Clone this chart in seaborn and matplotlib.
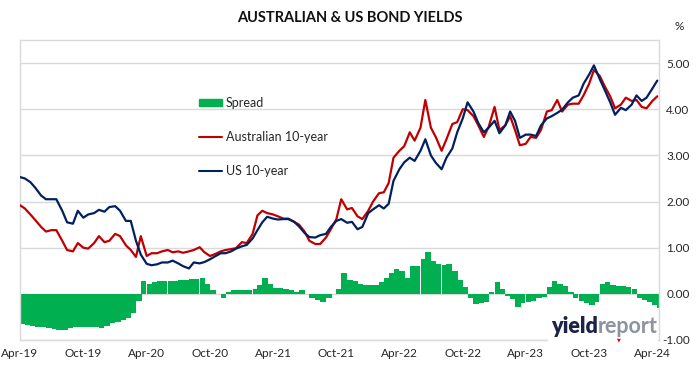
import numpy as np
import pandas as pd
import matplotlib
matplotlib.use('Agg')
import matplotlib.pyplot as plt
import matplotlib.dates as mdates
from matplotlib.lines import Line2D
from matplotlib.patches import Patch, Rectangle
import seaborn as sns

# ─── Data (semi-monthly readings, Apr-19 .. mid Apr-24) ───
dates = pd.date_range('2019-04-01', '2024-04-15', freq='SMS')

us_10y = [
    2.53, 2.50, 2.42, 2.30, 2.13, 2.05, 2.05, 2.05, 1.80, 1.55,
    1.52, 1.80, 1.65, 1.72, 1.75, 1.82, 1.78, 1.88, 1.90, 1.80,
    1.58, 1.58, 1.15, 0.85, 0.65, 0.62, 0.64, 0.68, 0.68, 0.72,
    0.66, 0.60, 0.55, 0.68, 0.66, 0.69, 0.75, 0.81, 0.88, 0.88,
    0.92, 0.98, 1.03, 1.06, 1.20, 1.38, 1.55, 1.67, 1.63, 1.61,
    1.62, 1.62, 1.56, 1.46, 1.32, 1.23, 1.22, 1.27, 1.30, 1.45,
    1.58, 1.62, 1.54, 1.56, 1.40, 1.45, 1.75, 1.83, 1.92, 1.85,
    1.95, 2.45, 2.70, 2.85, 2.95, 2.88, 3.10, 3.35, 3.00, 2.84,
    2.70, 2.95, 3.15, 3.50, 3.80, 4.15, 3.95, 3.70, 3.50, 3.60,
    3.75, 3.48, 3.65, 3.95, 3.75, 3.38, 3.45, 3.45, 3.42, 3.65,
    3.80, 3.85, 3.92, 3.99, 4.15, 4.25, 4.30, 4.55, 4.75, 4.95,
    4.65, 4.42, 4.15, 3.88, 4.03, 3.98, 4.10, 4.30, 4.18, 4.25,
    4.45, 4.62]

aus_10y = [
    1.92, 1.85, 1.72, 1.60, 1.45, 1.35, 1.38, 1.38, 1.15, 0.95,
    0.92, 1.10, 1.00, 0.98, 1.10, 1.25, 1.12, 1.15, 1.30, 1.25,
    1.05, 0.95, 0.80, 1.25, 0.82, 0.88, 0.88, 0.92, 0.95, 0.90,
    0.92, 0.89, 0.92, 0.95, 1.01, 0.90, 0.82, 0.86, 0.92, 0.95,
    0.97, 0.99, 1.12, 1.10, 1.30, 1.70, 1.80, 1.75, 1.72, 1.68,
    1.63, 1.63, 1.56, 1.50, 1.35, 1.15, 1.08, 1.08, 1.22, 1.40,
    1.62, 2.05, 1.83, 1.86, 1.68, 1.62, 1.80, 2.00, 2.18, 2.20,
    2.40, 2.95, 3.10, 3.20, 3.50, 3.32, 3.60, 4.20, 3.60, 3.40,
    3.10, 3.35, 3.68, 3.72, 4.00, 3.98, 3.85, 3.65, 3.40, 3.62,
    4.05, 3.55, 3.65, 3.85, 3.55, 3.22, 3.25, 3.40, 3.38, 3.55,
    3.95, 3.98, 4.20, 3.95, 4.10, 4.12, 4.12, 4.30, 4.55, 4.85,
    4.72, 4.50, 4.28, 4.02, 4.10, 4.25, 4.18, 4.20, 4.05, 4.02,
    4.18, 4.28]

spread = [
    -0.65, -0.68, -0.70, -0.71, -0.72, -0.74, -0.76, -0.79, -0.78, -0.74,
    -0.71, -0.71, -0.71, -0.72, -0.72, -0.74, -0.70, -0.63, -0.60, -0.57,
    -0.53, -0.42, -0.15, 0.28, 0.22, 0.25, 0.27, 0.27, 0.27, 0.28,
    0.30, 0.31, 0.33, 0.33, 0.34, 0.22, 0.08, 0.00, -0.10, 0.04,
    0.08, 0.09, 0.09, 0.09, 0.11, 0.20, 0.35, 0.22, 0.13, 0.12,
    0.10, 0.08, 0.05, 0.09, 0.00, -0.09, -0.14, -0.17, -0.10, 0.00,
    0.10, 0.45, 0.30, 0.27, 0.22, 0.20, 0.20, 0.20, 0.25, 0.35,
    0.45, 0.53, 0.50, 0.35, 0.60, 0.60, 0.75, 0.90, 0.72, 0.65,
    0.62, 0.65, 0.50, 0.30, 0.15, -0.10, -0.22, -0.20, -0.18, 0.05,
    0.25, 0.10, -0.05, -0.12, -0.28, -0.20, -0.17, -0.15, -0.09, -0.07,
    0.15, 0.27, 0.22, 0.16, 0.03, -0.09, -0.15, -0.20, -0.24, -0.17,
    0.22, 0.25, 0.20, 0.17, 0.16, 0.15, 0.10, -0.08, -0.13, -0.17,
    -0.25, -0.30]

y_ticks = [-1, 0, 1, 2, 3, 4, 5]

# ─── Style ───
sns.set_style('white')
plt.rcParams['font.family'] = ['Lato', 'DejaVu Sans']
GREEN, RED, NAVY, GRID = '#00B050', '#C00000', '#002060', '#D9D9D9'

df = pd.DataFrame({'date': list(dates) * 2,
                   'yield': aus_10y + us_10y,
                   'series': ['Australian 10-year'] * len(dates) + ['US 10-year'] * len(dates)})

fig = plt.figure(figsize=(6.99, 3.84), dpi=100)
ax = fig.add_axes([20/699, 44/384, 639/699, 300/384])

ax.bar(dates, spread, width=16, align='edge', color=GREEN, linewidth=0, zorder=2)
sns.lineplot(data=df, x='date', y='yield', hue='series',
             palette={'Australian 10-year': RED, 'US 10-year': NAVY},
             linewidth=1.6, legend=False, ax=ax, zorder=3)

ax.set_xlim(pd.Timestamp('2019-04-01'), pd.Timestamp('2024-04-20'))
ax.set_ylim(-1, 5.5)
ax.xaxis.set_major_locator(mdates.MonthLocator(bymonth=[4, 10]))
ax.xaxis.set_major_formatter(mdates.DateFormatter('%b-%y'))
ax.set_xlabel(''); ax.set_ylabel('')

ax.yaxis.tick_right()
ax.set_yticks(y_ticks)
ax.set_yticklabels([f'{v:.2f}' for v in y_ticks], ha='right')
ax.tick_params(axis='y', length=0, pad=22, labelsize=8.5, colors='#262626')
ax.tick_params(axis='x', length=0, pad=6, labelsize=8.5, colors='#262626')
ax.grid(axis='y', color=GRID, lw=1, zorder=0)
ax.set_axisbelow(True)
for s in ax.spines.values():
    s.set_color(GRID); s.set_linewidth(1)

handles = [Patch(color=GREEN, label='Spread'),
           Line2D([], [], color=RED, lw=1.5, label='Australian 10-year'),
           Line2D([], [], color=NAVY, lw=1.5, label='US 10-year')]
ax.legend(handles=handles, loc='upper left', bbox_to_anchor=(0.262, 0.847),
          frameon=False, fontsize=9, labelspacing=1.75, handlelength=1.9,
          handleheight=0.5, handletextpad=0.25)

fig.text(0.5, 1 - 18/384, 'AUSTRALIAN & US BOND YIELDS', ha='center', va='center',
         fontsize=10.5, fontweight='bold', color='#111111')
fig.text(679/699, 1 - 27/384, '%', ha='center', va='center', fontsize=8.5, color='#262626')

# logo block
fig.add_artist(Rectangle((548/699, 1 - 347/384), 110/699, 38/384,
                         transform=fig.transFigure, facecolor='white', edgecolor='none', zorder=5))
t1 = fig.text(551/699, 1 - 333/384, 'yield', ha='left', va='baseline', fontsize=15.5,
              fontweight='heavy', color='#1B2447', zorder=6)
fig.canvas.draw()
bb = t1.get_window_extent()
x_end = bb.x1 / fig.bbox.width
fig.text(x_end, 1 - 333/384, 'report', ha='left', va='baseline', fontsize=15.5,
         fontweight='bold', color='#8C94A3', zorder=6)
fig.text(619/699, 1 - 340/384, '\u25BC', ha='center', va='center', fontsize=3.5,
         color='#E00000', family='DejaVu Sans', zorder=6)

plt.savefig('out.png', dpi=100)
